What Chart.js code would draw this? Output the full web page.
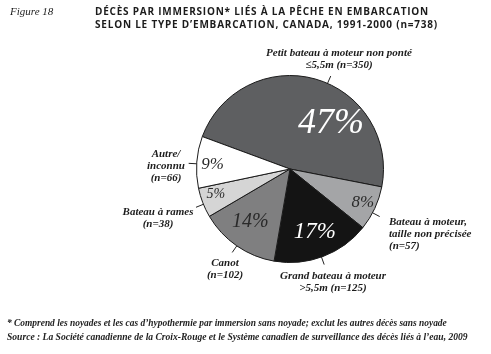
<!DOCTYPE html>
<html lang="fr">
<head>
    <meta charset="UTF-8">
    <title>Figure 18</title>
    <script src="https://cdn.jsdelivr.net/npm/chart.js"></script>
    <style>
        body { margin: 0; background: #fff; }
        .chart-container { width: 491px; height: 354px; }
    </style>
</head>
<body>
    <div class="chart-container">
        <canvas id="boatChart" width="491" height="354"></canvas>
    </div>

    <script>
        // data
        var categories = [
            ['Petit bateau à moteur non ponté', '≤5,5m'],
            ['Bateau à moteur,', 'taille non précisée'],
            ['Grand bateau à moteur', '>5,5m'],
            ['Canot'],
            ['Bateau à rames'],
            ['Autre/', 'inconnu']
        ];
        var deaths = [350, 57, 125, 102, 38, 66];
        var sliceColors = ['#5e5f61', '#a4a5a7', '#141414', '#7f7f80', '#d5d5d5', '#ffffff'];
        var pctColors = ['#ffffff', '#2a2a2a', '#ffffff', '#2a2a2a', '#2a2a2a', '#2a2a2a'];

        var titleLines = [
            'DÉCÈS PAR IMMERSION* LIÉS À LA PÊCHE EN EMBARCATION',
            'SELON LE TYPE D\u2019EMBARCATION, CANADA, 1991-2000 (n=738)'
        ];
        var footnotes = [
            '* Comprend les noyades et les cas d\u2019hypothermie par immersion sans noyade; exclut les autres décès sans noyade',
            'Source : La Société canadienne de la Croix-Rouge et le Système canadien de surveillance des décès liés à l\u2019eau, 2009'
        ];

        // label placement (style only)
        var pctStyle = [
            { size: 36, r: 0.65, da: 26.6 },
            { size: 17, r: 0.86, da: 0 },
            { size: 23, r: 0.72, da: -1 },
            { size: 20, r: 0.71, da: 2 },
            { size: 14, r: 0.84, da: 2 },
            { size: 17, r: 0.83, da: -1 }
        ];
        var calloutStyle = [
            { lead: 8, dx: 49, dy: -116, align: 'center' },
            { lead: 3, dx: 99, dy: 53, align: 'left' },
            { lead: 1, dx: 43, dy: 107, align: 'center' },
            { lead: 0, dx: -65, dy: 94, align: 'center' },
            { lead: -1, dx: -132, dy: 43, align: 'center' },
            { lead: -1, dx: -124, dy: -15, align: 'center' }
        ];

        var total = deaths.reduce(function (a, b) { return a + b; }, 0);

        // font size that makes a string a given width
        function fitFont(ctx, text, style, family, width) {
            ctx.font = style + ' 10px ' + family;
            var s = 10 * width / ctx.measureText(text).width;
            return style + ' ' + s.toFixed(2) + 'px ' + family;
        }

        var labelsPlugin = {
            id: 'figureText',
            afterDraw: function (chart) {
                var ctx = chart.ctx;
                var meta = chart.getDatasetMeta(0);
                ctx.save();

                // header
                ctx.fillStyle = '#1c1c1c';
                ctx.textBaseline = 'middle';
                ctx.textAlign = 'left';
                ctx.font = 'italic 11px "Liberation Serif"';
                ctx.fillText('Figure 18', 10, 12);
                ctx.font = 'bold 10px "Open Sans"';
                titleLines.forEach(function (t, i) {
                    ctx.letterSpacing = '0px';
                    var w = ctx.measureText(t).width;
                    var target = i === 0 ? 333 : 342;
                    ctx.letterSpacing = ((target - w) / (t.length - 1)).toFixed(2) + 'px';
                    ctx.fillText(t, 95, 12 + i * 13);
                });
                ctx.letterSpacing = '0px';

                // footnotes
                ctx.fillStyle = '#222';
                ctx.font = fitFont(ctx, footnotes[0], 'italic bold', '"Liberation Serif"', 440);
                ctx.fillText(footnotes[0], 7, 324);
                ctx.font = fitFont(ctx, footnotes[1], 'italic bold', '"Liberation Serif"', 461);
                ctx.fillText(footnotes[1], 7, 338);

                var calloutFont = fitFont(ctx, 'Bateau à moteur,', 'italic bold', '"Liberation Serif"', 78);

                meta.data.forEach(function (arc, i) {
                    var mid = (arc.startAngle + arc.endAngle) / 2;
                    var R = arc.outerRadius;

                    // percentage inside slice
                    var ps = pctStyle[i];
                    var a = mid + ps.da * Math.PI / 180;
                    ctx.fillStyle = pctColors[i];
                    ctx.font = 'italic ' + ps.size + 'px "Liberation Serif"';
                    ctx.textAlign = 'center';
                    ctx.fillText(Math.round(deaths[i] / total * 100) + '%',
                        arc.x + Math.cos(a) * R * ps.r, arc.y + Math.sin(a) * R * ps.r);

                    // leader line
                    var cs = calloutStyle[i];
                    var la = mid + cs.lead * Math.PI / 180;
                    ctx.strokeStyle = '#222';
                    ctx.lineWidth = 1;
                    ctx.beginPath();
                    ctx.moveTo(arc.x + Math.cos(la) * R, arc.y + Math.sin(la) * R);
                    ctx.lineTo(arc.x + Math.cos(la) * (R + 8), arc.y + Math.sin(la) * (R + 8));
                    ctx.stroke();

                    // callout text
                    var lines = categories[i].slice();
                    var last = lines[lines.length - 1];
                    if (last.charAt(0) === '≤' || last.charAt(0) === '>') {
                        lines[lines.length - 1] = last + ' (n=' + deaths[i] + ')';
                    } else {
                        lines.push('(n=' + deaths[i] + ')');
                    }
                    ctx.fillStyle = '#1c1c1c';
                    ctx.font = calloutFont;
                    ctx.textAlign = cs.align;
                    lines.forEach(function (l, j) {
                        ctx.fillText(l, arc.x + cs.dx, arc.y + cs.dy + j * 12);
                    });
                });
                ctx.restore();
            }
        };

        new Chart(document.getElementById('boatChart'), {
            type: 'pie',
            data: {
                labels: categories.map(function (c) { return c.join(' '); }),
                datasets: [{
                    data: deaths,
                    backgroundColor: sliceColors,
                    borderColor: '#1a1a1a',
                    borderWidth: 1
                }]
            },
            options: {
                responsive: false,
                animation: false,
                rotation: -69.7,
                layout: { padding: { left: 196, right: 107, top: 75, bottom: 91 } },
                plugins: {
                    legend: { display: false },
                    tooltip: { enabled: false }
                }
            },
            plugins: [labelsPlugin]
        });
    </script>
</body>
</html>
